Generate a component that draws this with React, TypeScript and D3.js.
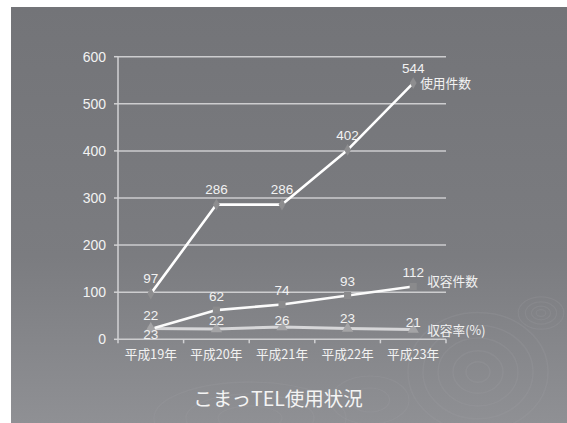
import React from "react";
import * as d3 from "d3";

const categories = ["平成19年", "平成20年", "平成21年", "平成22年", "平成23年"];
const usage = [97, 286, 286, 402, 544];
const accepted = [22, 62, 74, 93, 112];
const rate = [23, 22, 26, 23, 21];
const seriesNames = ["使用件数", "収容件数", "収容率(%)"];
const yTicks = [0, 100, 200, 300, 400, 500, 600];
const title = "こまっTEL使用状況";

const W = 567, H = 423;
const plot = { left: 118, right: 446, top: 56.7, bottom: 339.3 };
const NUM_FONT = "'Liberation Sans', Arial, 'Noto Sans CJK JP', sans-serif";
const JP_FONT = "'Noto Sans CJK JP', 'Liberation Sans', sans-serif";

export default function App() {
  const x = d3.scaleBand<string>().domain(categories).range([plot.left, plot.right]);
  const y = d3.scaleLinear().domain([0, 600]).range([plot.bottom, plot.top]);
  const cx = (c: string) => (x(c) as number) + x.bandwidth() / 2;
  const line = d3.line<number>().x((_, i) => cx(categories[i])).y((d) => y(d));

  const series = [
    { name: seriesNames[0], data: usage, color: "#ffffff", width: 2.6, marker: "diamond", mcolor: "#8d8d8f", labelDy: [-15, -15, -15, -15, -15], nameDx: 7, nameDy: 0 },
    { name: seriesNames[1], data: accepted, color: "#fbfbfb", width: 2.6, marker: "square", mcolor: "#8a8a8c", labelDy: [-14, -14, -14, -14, -14], nameDx: 14, nameDy: -5 },
    { name: seriesNames[2], data: rate, color: "#d6d6d8", width: 3, marker: "triangle", mcolor: "#a4a4a6", labelDy: [6, -9, -7, -10, -7], nameDx: 14, nameDy: 1 },
  ];

  const markerPath = (type: string) => {
    if (type === "diamond") return d3.symbol(d3.symbolDiamond, 40)();
    if (type === "square") return d3.symbol(d3.symbolSquare, 50)();
    return d3.symbol(d3.symbolTriangle, 55)();
  };

  return (
    <svg width={W} height={H} style={{ position: "absolute", left: 0, top: 0 }}>
      <defs>
        <linearGradient id="bg" x1="0" y1="0" x2="0" y2="1">
          <stop offset="0" stopColor="#737478" />
          <stop offset="0.6" stopColor="#7b7c80" />
          <stop offset="1" stopColor="#8f9094" />
        </linearGradient>
      </defs>
      <rect x={0} y={0} width={W} height={H} fill="#ffffff" />
      <rect x={11} y={7} width={W - 11} height={H - 7} fill="url(#bg)" />
      {/* decorative ripples */}
      <g fill="none" stroke="#a0a1a5" strokeOpacity={0.22}>
        {[4, 8, 13, 19].map((r) => (
          <ellipse key={"a" + r} cx={541} cy={313} rx={r * 1.2} ry={r * 0.85} strokeWidth={1.2} />
        ))}
        {[12, 25, 40, 55, 70].map((r) => (
          <ellipse key={"b" + r} cx={478} cy={372} rx={r} ry={r * 0.85} strokeWidth={1.5} />
        ))}
        {[20, 40, 60].map((r) => (
          <ellipse key={"c" + r} cx={250} cy={418} rx={r * 1.6} ry={r * 0.6} strokeWidth={1.3} />
        ))}
        {[15, 30].map((r) => (
          <ellipse key={"d" + r} cx={370} cy={400} rx={r * 1.3} ry={r * 0.8} strokeWidth={1.2} />
        ))}
      </g>
      {/* gridlines */}
      {yTicks.map((t) => (
        <line key={t} x1={plot.left} x2={plot.right} y1={y(t)} y2={y(t)} stroke="#cdcdcf" strokeWidth={1.5} />
      ))}
      <line x1={plot.left} x2={plot.left} y1={plot.top} y2={plot.bottom} stroke="#d2d2d4" strokeWidth={1.5} />
      {yTicks.map((t) => (
        <line key={"yt" + t} x1={plot.left - 4} x2={plot.left} y1={y(t)} y2={y(t)} stroke="#d2d2d4" strokeWidth={1.5} />
      ))}
      {[...categories.map((c) => x(c) as number), plot.right].map((v, i) => (
        <line key={"xt" + i} x1={v} x2={v} y1={plot.bottom} y2={plot.bottom + 4} stroke="#d2d2d4" strokeWidth={1.5} />
      ))}
      {yTicks.map((t) => (
        <text key={"yl" + t} x={106} y={y(t)} dy="0.35em" textAnchor="end" fill="#f2f2f2" fontSize={14} fontFamily={NUM_FONT}>
          {t}
        </text>
      ))}
      {categories.map((c) => (
        <text key={c} x={cx(c)} y={355} dy="0.35em" textAnchor="middle" fill="#f2f2f2" fontSize={12.7} fontFamily={JP_FONT}>
          {c}
        </text>
      ))}
      {/* series lines */}
      {series.slice().reverse().map((s) => (
        <path key={"l" + s.name} d={line(s.data) || ""} fill="none" stroke={s.color} strokeWidth={s.width} strokeLinejoin="round" />
      ))}
      {series.map((s) =>
        s.data.map((v, i) => (
          <path key={"m" + s.name + i} d={markerPath(s.marker) || ""} transform={`translate(${cx(categories[i])},${y(v)})`} fill={s.mcolor} />
        ))
      )}
      {series.map((s) =>
        s.data.map((v, i) => (
          <text key={"v" + s.name + i} x={cx(categories[i])} y={y(v) + s.labelDy[i]} dy="0.35em" textAnchor="middle" fill="#f2f2f2" fontSize={13.5} fontFamily={NUM_FONT}>
            {v}
          </text>
        ))
      )}
      {series.map((s) => {
        const last = s.data.length - 1;
        return (
          <text key={"n" + s.name} x={cx(categories[last]) + s.nameDx} y={y(s.data[last]) + s.nameDy} dy="0.35em" fill="#f2f2f2" fontSize={12.7} fontFamily={JP_FONT}>
            {s.name}
          </text>
        );
      })}
      <text x={278} y={399} dy="0.35em" textAnchor="middle" fill="#f4f4f4" fontSize={19.5} fontFamily={JP_FONT}>
        {title}
      </text>
    </svg>
  );
}
